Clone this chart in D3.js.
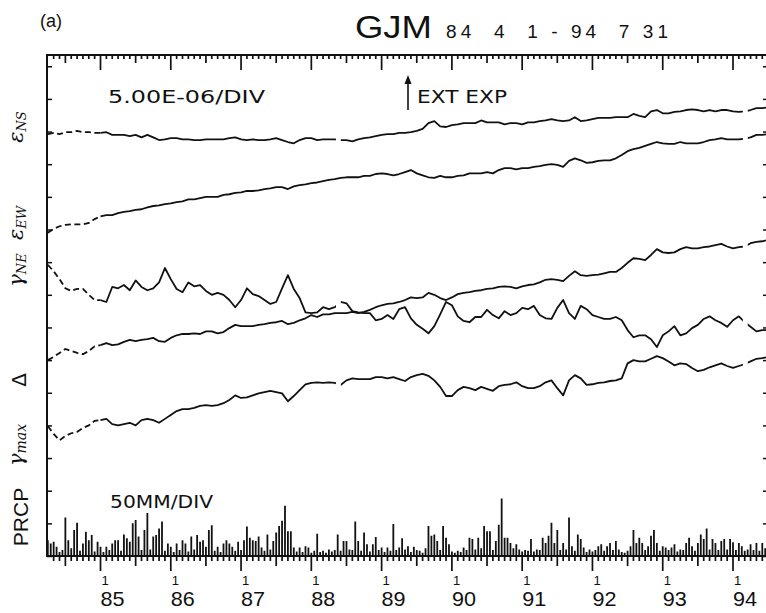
<!DOCTYPE html>
<html><head><meta charset="utf-8">
<script src="https://cdn.jsdelivr.net/npm/d3@7"></script>
<style>
html,body{margin:0;padding:0;background:#fff;}
svg{display:block;}
</style></head><body>
<svg id="chart" width="766" height="613"></svg>
<script>
// GJM borehole strain record, 1984-04-01 .. 1994-07-31.
// Monthly samples, plotted levels in units of 1e-6 (5e-6 per division).
const startYear = 1984.25;
const endYear = 1994 + 7 / 12;

const epsNS = [64.6,64.8,64.6,64.9,64.9,65.1,64.9,64.9,64.8,64.8,64.9,64.5,64.5,64.5,64.3,64.5,64.1,64.5,64.1,63.7,63.8,64.0,64.0,63.8,63.8,63.7,63.7,63.8,63.8,63.8,63.8,64.0,64.1,63.8,63.7,63.8,63.7,63.7,63.8,64.0,63.7,63.4,63.2,63.7,64.0,64.0,63.7,63.8,63.8,63.8,63.7,63.7,63.5,63.8,64.0,64.1,64.3,64.5,64.6,64.6,64.8,64.8,64.9,65.1,65.4,66.3,66.6,65.8,65.7,66.0,66.1,66.3,66.3,66.3,66.7,66.4,66.4,66.4,66.1,66.3,66.3,66.1,66.4,66.4,66.6,66.7,66.9,66.7,66.6,66.7,67.2,66.6,66.7,66.9,67.1,67.1,67.1,67.2,67.2,67.2,67.7,67.4,67.2,68.1,68.3,67.8,67.8,68.0,68.1,68.3,68.4,68.3,68.1,68.3,68.1,68.3,68.3,68.1,68.0,68.1,68.3,68.6,68.6,68.7,68.7];

const epsEW = [49.5,50.1,50.5,50.7,50.8,50.8,50.8,51.0,51.6,52.0,52.2,52.2,52.5,52.7,52.8,53.0,53.1,53.4,53.6,53.7,53.9,54.0,54.2,54.3,54.6,54.6,54.8,55.0,55.0,55.0,55.3,55.4,55.6,55.7,55.9,55.9,56.0,56.2,56.3,56.5,56.5,56.2,56.6,56.8,56.9,57.1,57.2,57.4,57.6,57.7,57.9,58.0,58.0,58.0,58.2,58.2,58.5,58.6,58.5,58.3,58.5,58.8,59.1,58.6,58.3,58.0,57.9,58.2,58.0,58.0,58.2,58.3,58.6,58.6,58.6,58.8,58.6,59.1,59.4,59.4,59.2,59.4,59.4,59.6,59.7,59.9,60.0,59.9,59.6,60.5,60.9,60.6,60.2,60.3,60.5,60.6,60.6,60.9,61.4,62.0,62.3,62.5,62.8,63.1,63.4,63.2,63.1,63.1,63.4,63.2,63.2,63.2,63.4,63.7,63.8,64.0,63.8,63.8,63.8,63.9,64.1,64.5,64.5,64.6,64.6];

const gammaNE = [44.6,43.6,42.4,41.0,40.6,40.9,40.9,40.0,39.2,39.2,38.9,41.2,41.0,41.5,40.7,42.2,41.2,40.7,41.0,41.9,44.1,42.4,40.9,40.4,41.9,41.3,41.5,40.6,40.0,40.3,40.0,39.2,38.1,39.2,41.0,40.1,39.8,39.2,38.6,38.9,41.0,43.0,40.9,39.5,37.3,37.2,37.3,38.1,37.8,38.1,38.9,38.7,37.5,37.3,37.2,37.2,36.1,36.3,36.9,36.3,37.8,38.1,36.4,35.4,34.8,34.1,35.2,37.0,38.9,38.4,36.7,36.0,35.8,36.6,36.6,37.7,36.9,36.4,37.5,36.9,37.2,38.0,37.8,38.3,36.9,36.4,36.3,38.0,39.2,37.2,36.3,38.3,37.8,36.9,36.6,36.3,36.3,36.6,36.1,34.6,33.5,33.8,33.8,33.2,32.0,33.8,34.4,35.2,33.8,34.1,34.9,35.4,36.3,36.7,36.1,35.7,35.1,36.1,36.7,35.8,35.1,34.4,34.6,34.6,34.4];

const dilatation = [30.0,30.5,31.1,31.7,31.4,31.1,30.9,31.4,32.1,32.3,32.6,32.3,32.4,32.8,33.1,32.9,33.1,33.2,33.4,32.9,32.8,33.4,33.8,34.0,34.0,34.1,34.0,34.4,34.4,34.1,34.3,34.9,35.4,35.2,35.2,35.2,35.4,35.5,35.7,35.8,36.0,35.5,35.7,36.1,36.4,36.9,36.6,37.0,37.0,37.2,37.2,37.2,37.4,37.2,37.4,37.7,38.1,38.4,38.6,38.7,38.9,39.2,39.6,39.5,39.6,40.3,40.0,39.5,39.2,39.6,40.1,40.3,40.4,40.6,40.7,40.9,41.0,41.2,41.3,41.2,41.0,41.3,41.5,41.6,41.9,42.3,42.4,42.3,42.1,42.9,43.6,43.0,42.9,43.0,43.1,43.3,43.5,43.5,44.1,44.9,45.6,45.5,45.3,46.1,47.0,46.5,46.4,46.5,47.0,47.3,47.1,47.1,47.3,47.4,47.6,47.8,47.4,47.1,47.3,47.4,47.9,48.1,48.2,48.4,48.4];

const gammaMax = [19.9,18.7,17.7,18.4,18.8,19.0,19.6,20.0,20.7,20.8,21.0,20.2,20.0,20.2,20.4,20.0,20.8,21.0,20.8,20.4,21.0,21.6,22.2,22.5,22.5,22.7,23.0,23.1,23.0,23.1,23.4,23.9,24.6,24.2,24.3,24.6,24.9,25.1,25.3,25.1,24.9,23.7,24.5,25.4,26.3,26.5,26.6,26.5,26.6,26.5,26.2,26.9,27.2,27.1,27.1,27.1,27.4,27.4,27.2,27.4,27.1,26.8,27.4,27.7,27.9,27.6,26.9,25.9,24.5,24.5,25.4,25.9,25.7,25.4,25.9,25.6,25.3,26.0,26.2,26.3,26.6,26.0,25.7,25.7,26.0,26.6,26.9,25.7,24.6,26.9,27.7,27.2,26.2,26.3,26.5,26.6,26.8,26.9,27.2,29.5,30.0,29.8,29.8,30.2,30.6,30.3,29.8,29.2,29.5,29.4,28.8,28.3,28.5,28.9,29.2,29.5,29.1,28.8,29.1,29.4,29.8,30.2,30.3,30.5,30.5];

// Half-monthly precipitation totals, mm (50 mm per division).
const prcp = [24,19,22,14,6,9,59,24,12,40,51,8,19,37,24,32,7,22,14,6,14,9,19,24,24,8,33,27,22,50,55,30,9,40,66,10,30,32,42,53,8,19,14,6,19,9,24,19,7,30,10,32,22,24,14,40,47,8,14,6,19,24,19,14,8,22,9,24,45,28,24,23,30,13,8,33,10,23,36,46,54,77,38,38,13,7,13,6,15,13,5,8,34,6,8,5,10,7,9,33,8,23,23,10,9,53,23,8,36,18,7,18,29,9,13,6,13,8,49,9,13,27,10,15,6,14,9,8,5,12,46,31,33,23,9,46,28,18,7,5,8,6,13,9,28,26,10,28,12,46,38,38,9,23,48,88,28,28,20,12,18,10,7,9,8,26,7,10,9,28,20,31,51,20,40,9,20,10,59,15,8,33,26,13,6,10,7,9,15,18,8,15,20,9,23,10,6,5,8,15,40,20,28,20,9,15,31,40,20,8,15,13,9,13,18,7,10,9,20,28,15,8,20,33,26,42,10,26,20,9,23,26,10,26,21,9,20,15,8,10,18,9,20,8,20,12,9,14,8];

const yearTicks = [1985,1986,1987,1988,1989,1990,1991,1992,1993,1994];
const yearLabels = ["85","86","87","88","89","90","91","92","93","94"];

// Data before this date are interpolated (drawn dashed).
const interpolatedUntil = 1985.0;
// Short breaks in the record.
const breaks1988 = [1988.35, 1988.42];
const breaks1994 = [1994.14, 1994.21];

const series = [
  {name:"epsNS", values:epsNS, gaps:[breaks1988, breaks1994]},
  {name:"epsEW", values:epsEW, gaps:[breaks1994]},
  {name:"gammaNE", values:gammaNE, gaps:[breaks1988, breaks1994]},
  {name:"dilatation", values:dilatation, gaps:[breaks1994]},
  {name:"gammaMax", values:gammaMax, gaps:[breaks1988, breaks1994]}
];

const strainPerDiv = 5;     // 1e-6 per division
const prcpPerDiv = 50;      // mm per division
const nDiv = 15.345;

// ---- layout ----
const svg = d3.select("#chart");
const frameL = 47, frameR = 772, frameT = 55, frameB = 556;

const x = d3.scaleLinear().domain([startYear, endYear]).range([47.8, 774]);
const y = d3.scaleLinear().domain([0, nDiv * strainPerDiv]).range([frameB, frameT]);
const yP = d3.scaleLinear().domain([0, nDiv * prcpPerDiv]).range([frameB, frameT]);

const months = d3.range(epsNS.length).map(k => startYear + k / 12);
const halfMonths = d3.range(prcp.length).map(j => startYear + j / 24);

const ink = "#111";

const defs = svg.append("defs");
defs.append("clipPath").attr("id", "plotClip")
  .append("rect").attr("x", frameL).attr("y", frameT).attr("width", frameR - frameL).attr("height", frameB - frameT);

// ---- precipitation bars ----
const pg = svg.append("g").attr("clip-path", "url(#plotClip)");
pg.append("path")
  .attr("d", prcp.map((d, j) => `M${x(halfMonths[j]).toFixed(2)},${yP(0)}V${yP(d).toFixed(2)}`).join(""))
  .attr("stroke", ink).attr("stroke-width", 1.8).attr("fill", "none");

// ---- strain curves ----
const line = d3.line().x(d => x(d.t)).y(d => y(d.v));
series.forEach((s, i) => {
  const pts = s.values.map((v, k) => ({t: months[k], v}));
  // clip path leaving out the record breaks
  const cp = defs.append("clipPath").attr("id", "clip" + i);
  const edges = [startYear - 1].concat(...s.gaps).concat([endYear + 1]);
  for (let e = 0; e < edges.length; e += 2) {
    const x0 = Math.max(frameL, x(edges[e])), x1 = Math.min(frameR, x(edges[e + 1]));
    cp.append("rect").attr("x", x0).attr("y", frameT).attr("width", x1 - x0).attr("height", frameB - frameT);
  }
  const g = svg.append("g").attr("clip-path", `url(#clip${i})`);
  const early = pts.filter(p => p.t <= interpolatedUntil + 1e-9);
  const late = pts.filter(p => p.t >= interpolatedUntil - 1e-9);
  g.append("path").datum(early).attr("d", line)
    .attr("fill", "none").attr("stroke", ink).attr("stroke-width", 1.8)
    .attr("stroke-dasharray", "6,3.5");
  g.append("path").datum(late).attr("d", line)
    .attr("fill", "none").attr("stroke", ink).attr("stroke-width", 1.8)
    .attr("stroke-linejoin", "round");
});

// ---- frame ----
const frame = svg.append("g").attr("stroke", ink).attr("fill", "none");
frame.append("path").attr("stroke-width", 2)
  .attr("d", `M${frameL},${frameB}V${frameT}H${frameR}V${frameB}Z`);

// ---- month / half-year / year ticks along top and bottom edges ----
const inside = months.filter(t => x(t) > frameL + 1 && x(t) < frameR);
const moy = t => ((Math.round((t - startYear) * 12) + 3) % 12 + 12) % 12;   // 0 = January
const topLen = t => moy(t) === 0 ? 15 : (moy(t) === 6 ? 8 : 4);
const botLen = t => moy(t) === 0 ? 15 : (moy(t) === 6 ? 10 : 5);
const tickPath = svg.append("path").attr("fill", "none").attr("stroke", ink).attr("stroke-width", 1.7)
  .attr("d", inside.map(t => {
    const xx = x(t).toFixed(2);
    return `M${xx},${frameT}v${topLen(t)}M${xx},${frameB}v${botLen(t)}`;
  }).join(""));

// division ticks on both sides, drawn with d3 axes
const divTicks = d3.range(0, Math.floor(nDiv) + 1).map(k => k * strainPerDiv);
const leftAxis = svg.append("g").attr("transform", `translate(${frameL},0)`)
  .call(d3.axisRight(y).tickValues(divTicks).tickSize(5).tickFormat(() => ""));
leftAxis.select(".domain").remove();
leftAxis.selectAll(".tick line").attr("stroke", ink).attr("stroke-width", 1.5);
const rightAxis = svg.append("g").attr("transform", `translate(${frameR},0)`)
  .call(d3.axisLeft(y).tickValues(divTicks).tickSize(9).tickFormat(() => ""));
rightAxis.select(".domain").remove();
rightAxis.selectAll(".tick line").attr("stroke", ink).attr("stroke-width", 1.5);

// ---- year labels ----
const sans = "Liberation Sans, Arial, sans-serif";
const lab = svg.append("g").attr("fill", ink);
yearTicks.forEach((yr, i) => {
  const xx = x(yr);
  lab.append("text").attr("x", xx + 1).attr("y", 585).attr("font-family", sans)
    .attr("font-size", 13).text("1");
  lab.append("text").attr("x", xx).attr("y", 606).attr("font-family", sans)
    .attr("font-size", 21).attr("textLength", 24).attr("lengthAdjust", "spacingAndGlyphs").text(yearLabels[i]);
});

// ---- titles ----
svg.append("text").attr("x", 40).attr("y", 27).attr("font-family", sans).attr("font-size", 18).attr("fill", ink).text("(a)");
svg.append("text").attr("x", 355).attr("y", 38).attr("font-family", sans).attr("font-size", 31)
  .attr("textLength", 77).attr("lengthAdjust", "spacingAndGlyphs").attr("fill", ink).text("GJM");
svg.append("text").attr("x", 446).attr("y", 38).attr("font-family", sans).attr("font-size", 19)
  .attr("xml:space", "preserve").attr("textLength", 222).attr("lengthAdjust", "spacing").attr("fill", ink)
  .text("84  4  1 - 94  7 31");

const plotFont = "DejaVu Sans, sans-serif";
svg.append("text").attr("x", 108).attr("y", 103).attr("font-family", plotFont).attr("font-size", 18)
  .attr("textLength", 157).attr("lengthAdjust", "spacingAndGlyphs").attr("fill", ink).text("5.00E-06/DIV");
svg.append("text").attr("x", 417).attr("y", 103).attr("font-family", plotFont).attr("font-size", 18)
  .attr("textLength", 90).attr("lengthAdjust", "spacingAndGlyphs").attr("fill", ink).text("EXT EXP");
svg.append("text").attr("x", 110).attr("y", 508).attr("font-family", plotFont).attr("font-size", 17)
  .attr("textLength", 103).attr("lengthAdjust", "spacingAndGlyphs").attr("fill", ink).text("50MM/DIV");

// arrow beside the extensometer note
svg.append("line").attr("x1", 408).attr("x2", 408).attr("y1", 110).attr("y2", 80).attr("stroke", ink).attr("stroke-width", 1.6);
svg.append("path").attr("d", d3.line()([[404.5, 84], [408, 75], [411.5, 84]])).attr("fill", ink);

// ---- left axis labels (rotated) ----
function sideLabel(cx, cy, main, sub, opts) {
  const t = svg.append("text").attr("transform", `translate(${cx},${cy}) rotate(-90)`)
    .attr("text-anchor", "middle").attr("font-family", opts.family || "DejaVu Serif, serif").attr("fill", ink);
  t.append("tspan").attr("font-size", opts.size).attr("font-style", opts.italic ? "italic" : "normal").text(main);
  if (sub) t.append("tspan").attr("font-size", opts.subSize).attr("font-style", "italic").attr("dy", opts.dy || 3).text(sub);
}
sideLabel(23, 127, "\u03B5", "NS", {size: 21, subSize: 13, italic: true});
sideLabel(23, 223, "\u03B5", "EW", {size: 21, subSize: 13, italic: true});
sideLabel(23, 270, "\u03B3", "NE", {size: 21, subSize: 13, italic: true});
sideLabel(26, 380, "\u0394", null, {size: 20, family: "DejaVu Sans, sans-serif"});
sideLabel(23, 445, "\u03B3", "max", {size: 21, subSize: 14, italic: true});
sideLabel(28, 517, "PRCP", null, {size: 21, family: sans});
</script>
</body></html>
